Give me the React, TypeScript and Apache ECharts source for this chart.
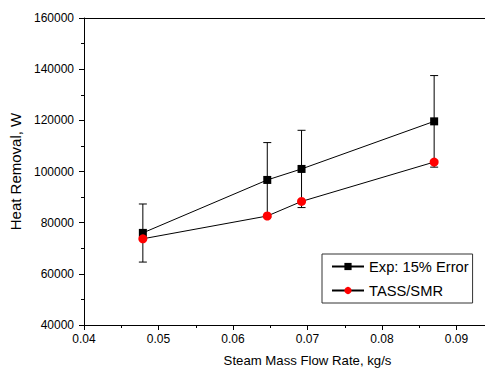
import React, { useEffect, useRef } from "react";
import * as echarts from "echarts";

const flowRates = [0.0479, 0.0646, 0.0692, 0.087];
const expValues = [76000, 96700, 101000, 119600];
const expLow = [64600, 82200, 85900, 101700];
const expHigh = [87300, 111300, 116100, 137500];
const tassValues = [73700, 82600, 88300, 103700];

const FONT = "'Liberation Sans', Arial, sans-serif";

export default function App() {
  const ref = useRef<HTMLDivElement>(null);
  useEffect(() => {
    if (!ref.current) return;
    const chart = echarts.init(ref.current, null, { renderer: "svg" });
    const errData = flowRates.map((x, i) => [x, expLow[i], expHigh[i]]);
    chart.setOption({
      animation: false,
      backgroundColor: "#ffffff",
      textStyle: { fontFamily: FONT },
      grid: {
        left: 84,
        top: 18,
        bottom: 46,
        right: 0,
        show: false,
      },
      legend: {
        orient: "vertical",
        left: 322,
        top: 254,
        itemWidth: 32,
        itemHeight: 9,
        itemGap: 9,
        padding: [5, 4, 5, 9],
        borderColor: "#333",
        borderWidth: 1,
        textStyle: { fontFamily: FONT, fontSize: 14.7, color: "#000" },
        data: ["Exp: 15% Error", "TASS/SMR"],
      },
      xAxis: [
        {
          type: "value",
          min: 0.04,
          max: 0.1,
          interval: 0.01,
          name: "Steam Mass Flow Rate, kg/s",
          nameLocation: "middle",
          nameGap: 29,
          nameTextStyle: { fontFamily: FONT, fontSize: 13.2, color: "#000", verticalAlign: "top", align: "center" },
          axisLine: { show: true, lineStyle: { color: "#000", width: 1 } },
          axisTick: { show: true, length: 5, lineStyle: { color: "#000" } },
          minorTick: { show: true, splitNumber: 2, length: 3, lineStyle: { color: "#000" } },
          splitLine: { show: false },
          axisLabel: { fontFamily: FONT, fontSize: 12, color: "#000", margin: 8, showMaxLabel: false, formatter: (v: number) => v.toFixed(2) },
        },
        {
          type: "value",
          position: "top",
          min: 0.04,
          max: 0.1,
          interval: 0.01,
          axisLine: { show: true, onZero: false, lineStyle: { color: "#000", width: 1 } },
          axisTick: { show: false },
          axisLabel: { show: false },
          splitLine: { show: false },
        },
      ],
      yAxis: {
        type: "value",
        min: 40000,
        max: 160000,
        interval: 20000,
        name: "Heat Removal, W",
        nameLocation: "middle",
        nameGap: 58,
        nameTextStyle: { fontFamily: FONT, fontSize: 15, color: "#000" },
        axisLine: { show: true, lineStyle: { color: "#000", width: 1 } },
        axisTick: { show: true, length: 5, lineStyle: { color: "#000" } },
        minorTick: { show: true, splitNumber: 2, length: 3, lineStyle: { color: "#000" } },
        splitLine: { show: false },
        axisLabel: { fontFamily: FONT, fontSize: 12, color: "#000", margin: 10, formatter: (v: number) => String(v) },
      },
      series: [
        {
          type: "custom",
          name: "errors",
          data: errData,
          z: 1,
          silent: true,
          renderItem: (params: any, api: any) => {
            const x = api.value(0);
            const lo = api.coord([x, api.value(1)]);
            const hi = api.coord([x, api.value(2)]);
            const w = 4;
            const style = { stroke: "#000", lineWidth: 1 };
            return {
              type: "group",
              children: [
                { type: "line", shape: { x1: lo[0], y1: lo[1], x2: hi[0], y2: hi[1] }, style },
                { type: "line", shape: { x1: lo[0] - w, y1: lo[1], x2: lo[0] + w, y2: lo[1] }, style },
                { type: "line", shape: { x1: hi[0] - w, y1: hi[1], x2: hi[0] + w, y2: hi[1] }, style },
              ],
            };
          },
        },
        {
          type: "line",
          name: "Exp: 15% Error",
          data: flowRates.map((x, i) => [x, expValues[i]]),
          symbol: "rect",
          symbolSize: 8,
          z: 3,
          lineStyle: { color: "#000", width: 1 },
          itemStyle: { color: "#000" },
        },
        {
          type: "line",
          name: "TASS/SMR",
          data: flowRates.map((x, i) => [x, tassValues[i]]),
          symbol: "circle",
          symbolSize: 9,
          z: 4,
          lineStyle: { color: "#000", width: 1 },
          itemStyle: { color: "#ff0000" },
        },
      ],
    });
    return () => chart.dispose();
  }, []);
  return (
    <div
      style={{ position: "fixed", left: 0, top: 0, width: 485, height: 372, overflow: "hidden", background: "#fff" }}
    >
      <div ref={ref} style={{ width: 531, height: 372 }} />
    </div>
  );
}
